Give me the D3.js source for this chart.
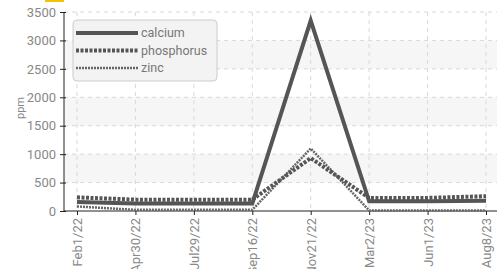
<!DOCTYPE html>
<html>
<head>
<meta charset="utf-8">
<script src="https://cdn.jsdelivr.net/npm/d3@7"></script>
<style>
  body { margin: 0; background: #fff; }
  text { font-family: "Roboto", sans-serif; }
</style>
</head>
<body>
<div id="chart"></div>
<script>
// data
const dates = ["Feb1/22", "Apr30/22", "Jul29/22", "Sep16/22", "Nov21/22", "Mar2/23", "Jun1/23", "Aug8/23"];
const calcium = [160, 130, 130, 130, 3350, 170, 170, 180];
const phosphorus = [240, 200, 200, 200, 930, 230, 230, 260];
const zinc = [80, 20, 20, 20, 1100, 10, 10, 10];
const yTicks = [0, 500, 1000, 1500, 2000, 2500, 3000, 3500];

(function () {
  const W = 502, H = 269;
  const pLeft = 64, pRight = 497, pTop = 12, pBottom = 211;

  const svg = d3.select("#chart").append("svg")
    .attr("width", W).attr("height", H);

  // little orange mark at the top
  svg.append("rect").attr("x", 45).attr("y", 0).attr("width", 19).attr("height", 2).attr("fill", "#f5c400");

  const x = d3.scalePoint().domain(dates).range([77, 486]);
  const y = d3.scaleLinear().domain([0, 3500]).range([pBottom, pTop]);

  // alternating bands
  for (let i = 0; i < yTicks.length - 1; i++) {
    if (i % 2 === 1) {
      svg.append("rect")
        .attr("x", pLeft).attr("y", y(yTicks[i + 1]))
        .attr("width", pRight - pLeft).attr("height", y(yTicks[i]) - y(yTicks[i + 1]))
        .attr("fill", "#f6f6f6");
    }
  }

  // grid
  const grid = svg.append("g").attr("stroke", "#d9d9d9").attr("stroke-dasharray", "4,4");
  yTicks.slice(1).forEach(t => {
    grid.append("line").attr("x1", pLeft).attr("x2", pRight).attr("y1", y(t)).attr("y2", y(t));
  });
  dates.forEach(d => {
    grid.append("line").attr("x1", x(d)).attr("x2", x(d)).attr("y1", pTop).attr("y2", pBottom);
  });

  // axes
  const yAxis = svg.append("g").attr("transform", `translate(${pLeft},0)`)
    .call(d3.axisLeft(y).tickValues(yTicks).tickFormat(d3.format("d")).tickSize(4).tickPadding(4));
  yAxis.select(".domain").attr("stroke", "#222").attr("d", `M0,${pTop}V${pBottom}`);
  yAxis.selectAll(".tick line").attr("stroke", "#222").attr("x1", 2);
  yAxis.selectAll("text").attr("fill", "#888").attr("font-size", "13px");

  const xAxis = svg.append("g").attr("transform", `translate(0,${pBottom})`)
    .call(d3.axisBottom(x).tickSize(4).tickSizeOuter(0));
  xAxis.select(".domain").attr("stroke", "#222").attr("d", `M${pLeft},0H${pRight}`);
  xAxis.selectAll(".tick line").attr("stroke", "#222");
  xAxis.selectAll("text")
    .attr("fill", "#888").attr("font-size", "13px")
    .attr("transform", "rotate(-90)")
    .attr("text-anchor", "end")
    .attr("x", -7).attr("y", 0).attr("dy", "0.35em");

  svg.append("text")
    .attr("transform", `translate(24,108) rotate(-90)`)
    .attr("text-anchor", "middle")
    .attr("fill", "#888").attr("font-size", "11px")
    .text("ppm");

  // series
  const series = [
    { name: "calcium", values: calcium, width: 4, dash: null, color: "#555" },
    { name: "phosphorus", values: phosphorus, width: 4, dash: "3,1.5", color: "#555" },
    { name: "zinc", values: zinc, width: 2.5, dash: "2,1", color: "#666" }
  ];

  const line = d3.line().x((d, i) => x(dates[i])).y(d => y(d));

  series.slice().reverse().forEach(s => {
    svg.append("path")
      .datum(s.values)
      .attr("fill", "none")
      .attr("stroke", s.color)
      .attr("stroke-width", s.width)
      .attr("stroke-dasharray", s.dash)
      .attr("d", line);
  });

  // legend
  const legend = svg.append("g");
  legend.append("rect")
    .attr("x", 73).attr("y", 20).attr("width", 144).attr("height", 61)
    .attr("rx", 4)
    .attr("fill", "#f2f2f2").attr("fill-opacity", 0.92)
    .attr("stroke", "#ccc");
  series.forEach((s, i) => {
    const ly = 33 + i * 17.5;
    legend.append("line")
      .attr("x1", 76).attr("x2", 138).attr("y1", ly).attr("y2", ly)
      .attr("stroke", s.color).attr("stroke-width", s.width)
      .attr("stroke-dasharray", s.dash);
    legend.append("text")
      .attr("x", 141).attr("y", ly).attr("dy", "0.35em")
      .attr("fill", "#777").attr("font-size", "12.5px")
      .text(s.name);
  });
})();
</script>
</body>
</html>
